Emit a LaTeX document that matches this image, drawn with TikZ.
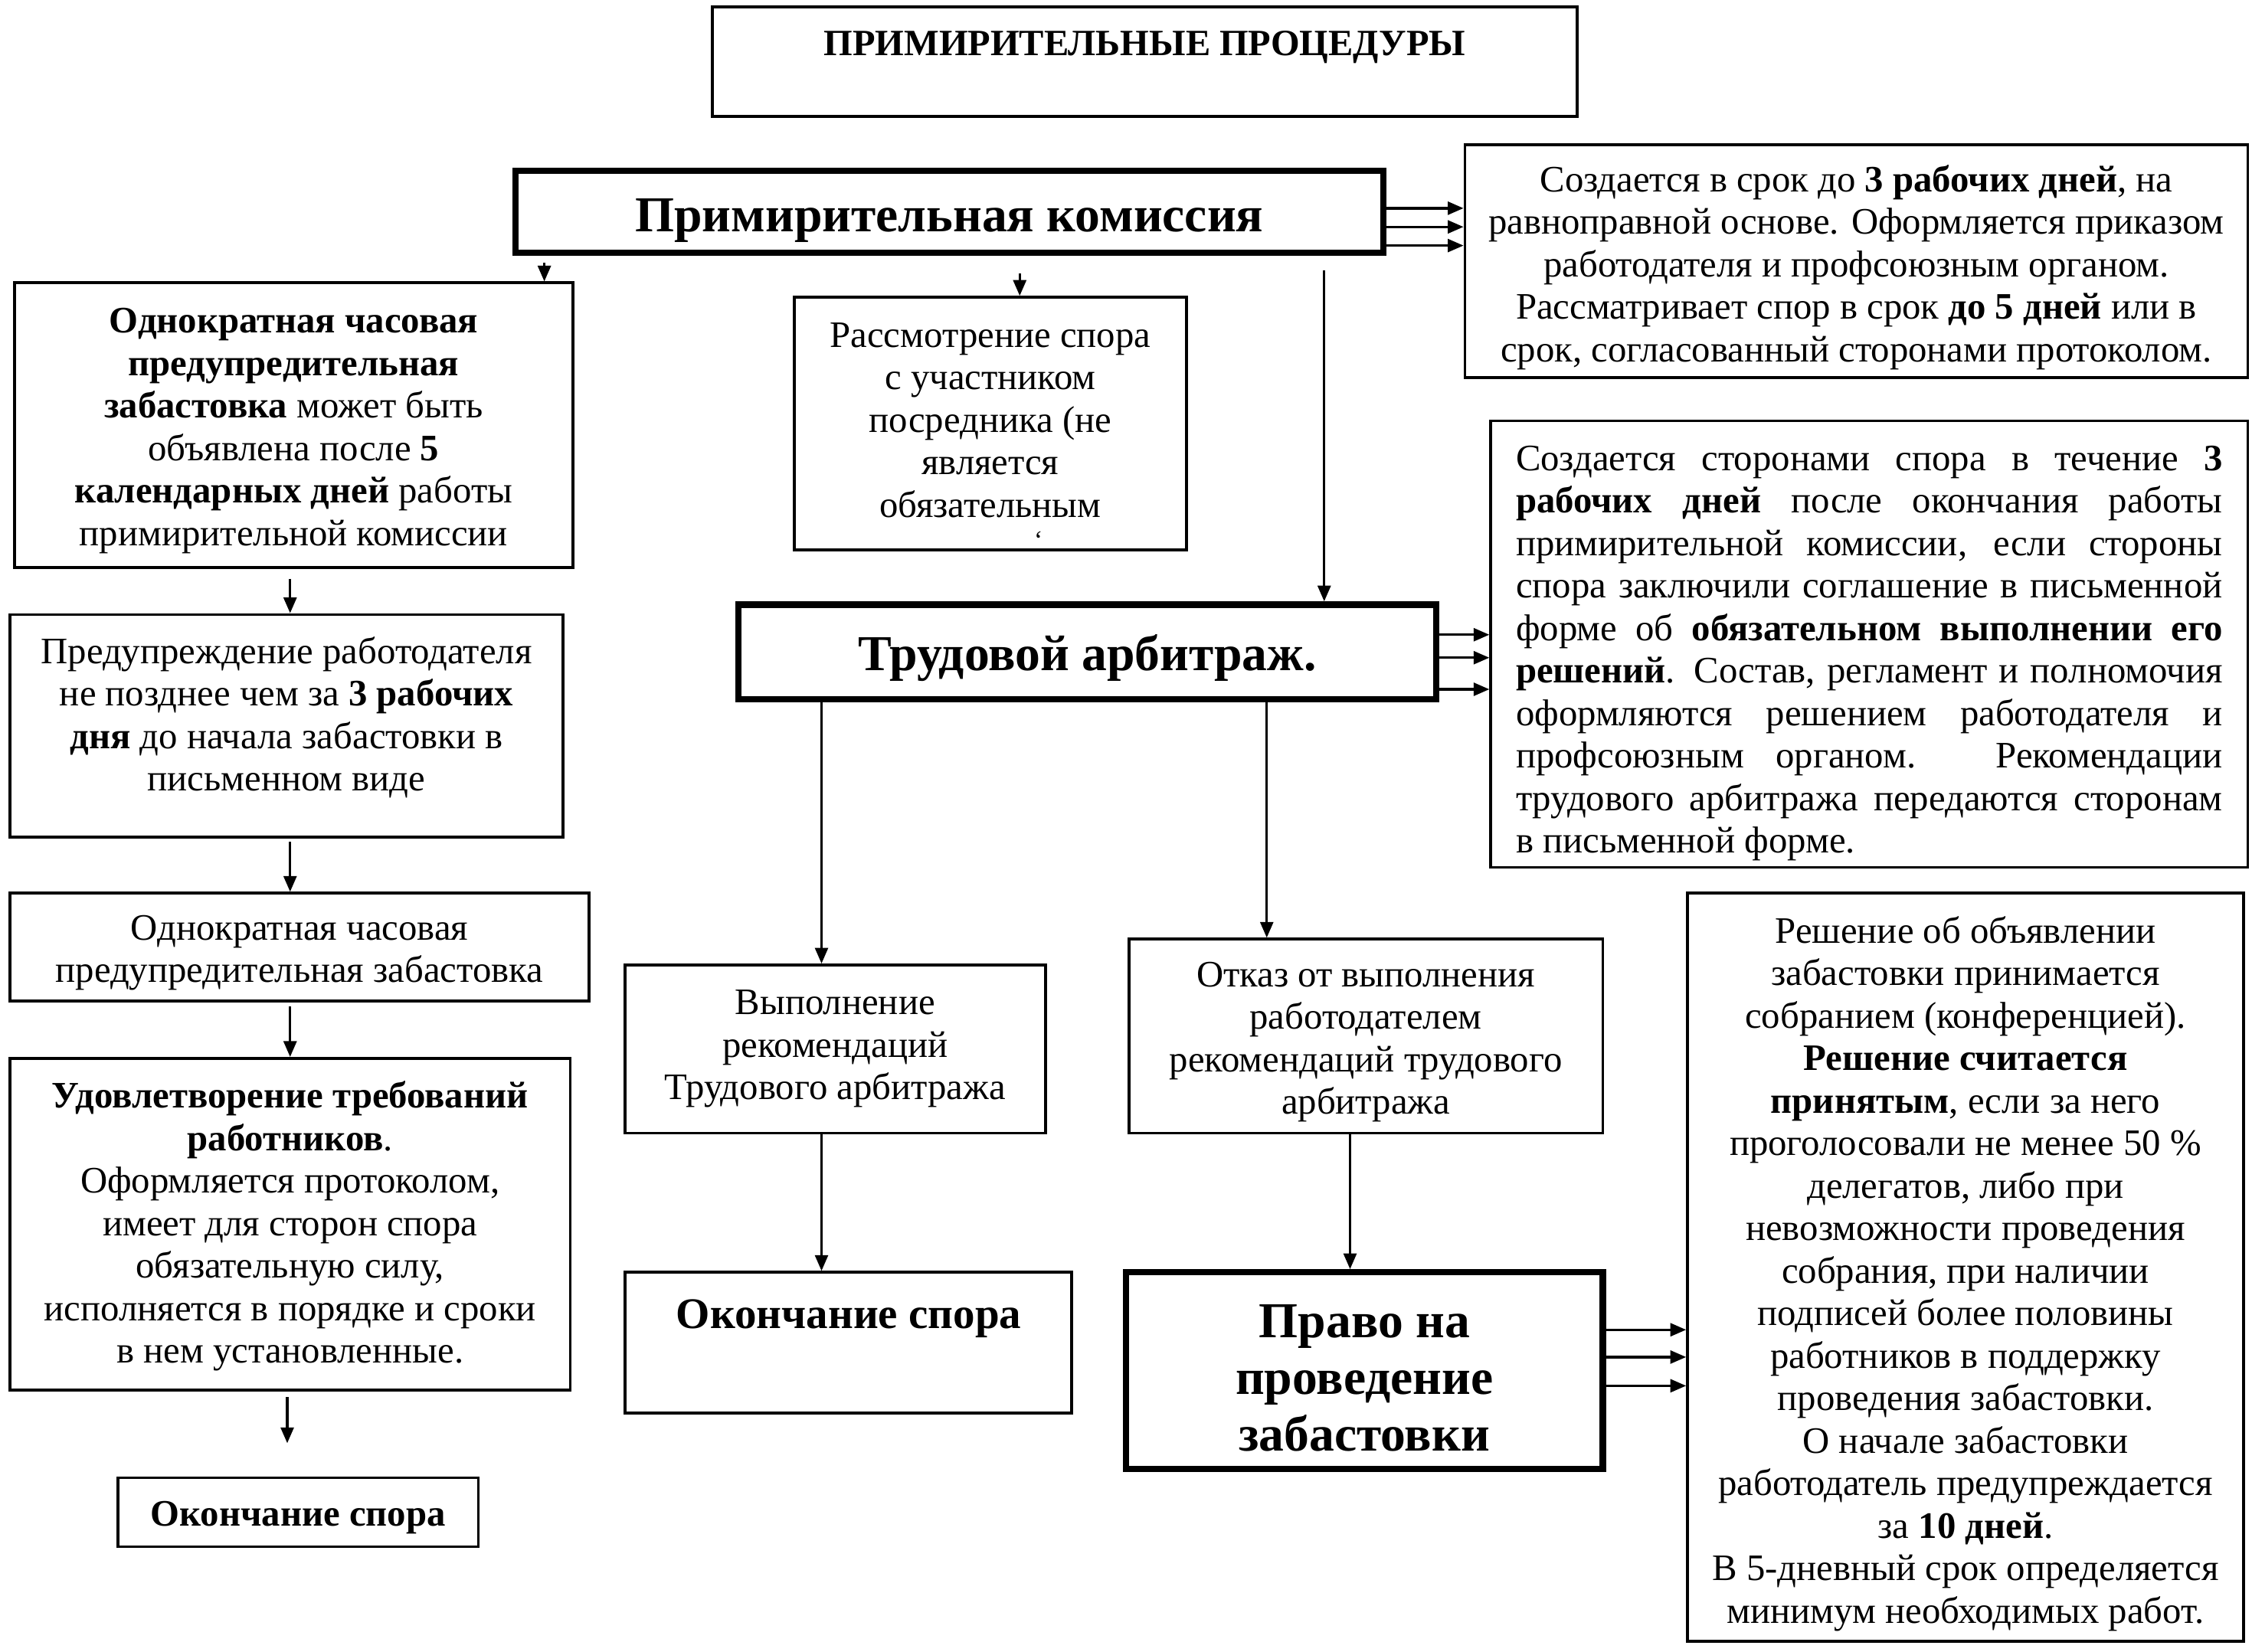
\documentclass[tikz,border=0pt]{standalone}
\usepackage{fontspec}
\setmainfont{Liberation Serif}
\usetikzlibrary{arrows.meta}
\newcommand\bodyfont{\fontsize{13}{14.8}\selectfont}
\newcommand\bigfont{\fontsize{17.5}{19.75}\selectfont\bfseries}
\newcommand\titlefont{\fontsize{12.9}{14}\selectfont\bfseries}
\newcommand\midfont{\fontsize{15.2}{17}\selectfont\bfseries}
\newcommand\jl[1]{\makebox[246pt][s]{#1}}
\begin{document}
\begin{tikzpicture}[x=0.5pt,y=-0.5pt,
  box/.style={draw, line width=1pt, inner sep=0pt},
  thickbox/.style={draw, line width=2.2pt, inner sep=0pt},
  arr/.style={-{Triangle[length=5.5pt,width=4.5pt]}, line width=0.9pt},
  txt/.style={inner sep=0pt, align=center, font=\bodyfont},
  bigtxt/.style={inner sep=0pt, align=center, font=\bigfont}]
\useasboundingbox (0,0) rectangle (1568,1150);
\fill[white] (0,0) rectangle (1568,1150);

% title
\node[box, minimum width=301pt, minimum height=38pt] (title) at (797,43) {};
\node[inner sep=0pt, font=\titlefont] (titletext) at (797,33) {ПРИМИРИТЕЛЬНЫЕ ПРОЦЕДУРЫ};

% Примирительная комиссия
\node[thickbox, minimum width=302pt, minimum height=28.5pt] (kom) at (661,147.5) {};
\node[bigtxt] (komtext) at (661,153.5) {Примирительная комиссия};

% right box 1
\node[box, minimum width=272.5pt, minimum height=81pt] (r1) at (1292.5,182) {};
\node[txt] (r1text) at (1292.5,186)
 {Создается в срок до \textbf{3 рабочих дней}, на\\
  равноправной основе. Оформляется приказом\\
  работодателя и профсоюзным органом.\\
  Рассматривает спор в срок \textbf{до 5 дней} или в\\
  срок, согласованный сторонами протоколом.};

% left column
\node[box, minimum width=194.5pt, minimum height=99pt] (a) at (204.5,296) {};
\node[txt] (atext) at (204.5,300)
 {\textbf{Однократная часовая}\\
  \textbf{предупредительная}\\
  \textbf{забастовка} может быть\\
  объявлена после \textbf{5}\\
  \textbf{календарных дней} работы\\
  примирительной комиссии};

\node[box, minimum width=192.5pt, minimum height=77.5pt] (b) at (199.5,505.5) {};
\node[txt] (btext) at (199.5,499.5)
 {Предупреждение работодателя\\
  не позднее чем за \textbf{3 рабочих}\\
  \textbf{дня} до начала забастовки в\\
  письменном виде};

\node[box, minimum width=201.5pt, minimum height=37.5pt] (c) at (208.5,659.5) {};
\node[txt] (ctext) at (208.5,663.5)
 {Однократная часовая\\
  предупредительная забастовка};

\node[box, minimum width=195pt, minimum height=115.5pt] (d) at (202,852.5) {};
\node[txt] (dtext) at (202,854)
 {\textbf{Удовлетворение требований}\\
  \textbf{работников}.\\
  Оформляется протоколом,\\
  имеет для сторон спора\\
  обязательную силу,\\
  исполняется в порядке и сроки\\
  в нем установленные.};

\node[box, minimum width=125.5pt, minimum height=24pt] (e) at (207.5,1053) {};
\node[txt] (etext) at (207.5,1057) {\textbf{Окончание спора}};

% middle
\node[box, minimum width=136.5pt, minimum height=88pt] (m) at (689.5,295) {};
\node[txt] (mtext) at (689.5,292.5)
 {Рассмотрение спора\\
  с участником\\
  посредника (не\\
  является\\
  обязательным};
\node[inner sep=0pt, font=\fontsize{9}{9}\selectfont] (mtick) at (723,376) {`};

\node[thickbox, minimum width=243pt, minimum height=33pt] (ta) at (757,454) {};
\node[bigtxt] (tatext) at (757,458) {Трудовой арбитраж.};

% right box 2
\node[box, minimum width=263.5pt, minimum height=155.5pt] (r2) at (1301.5,448.5) {};
\node[txt, align=left] (r2text) at (1301.5,455)
 {\jl{Создается сторонами спора в течение \textbf{3}}\\
  \jl{\textbf{рабочих дней} после окончания работы}\\
  \jl{примирительной комиссии, если стороны}\\
  \jl{спора заключили соглашение в письменной}\\
  \jl{форме об \textbf{обязательном выполнении его}}\\
  \jl{\textbf{решений}. Состав, регламент и полномочия}\\
  \jl{оформляются решением работодателя и}\\
  \jl{профсоюзным органом. Рекомендации}\\
  \jl{трудового арбитража передаются сторонам}\\
  \makebox[246pt][l]{в письменной форме.}};

\node[box, minimum width=146.5pt, minimum height=58.5pt] (f) at (581.5,730.5) {};
\node[txt] (ftext) at (581.5,730.5)
 {Выполнение\\
  рекомендаций\\
  Трудового арбитража};

\node[box, minimum width=155.5pt, minimum height=49pt] (g) at (590.5,935) {};
\node[inner sep=0pt, font=\midfont] (gtext) at (591,918) {Окончание спора};

\node[box, minimum width=165pt, minimum height=67.5pt] (h) at (951,721.5) {};
\node[txt] (htext) at (951,725.5)
 {Отказ от выполнения\\
  работодателем\\
  рекомендаций трудового\\
  арбитража};

\node[thickbox, minimum width=166pt, minimum height=68.5pt] (i) at (950,954.5) {};
\node[bigtxt] (itext) at (950,959.5)
 {Право на\\ проведение\\ забастовки};

\node[box, minimum width=193.5pt, minimum height=260.5pt] (r3) at (1368.5,882.5) {};
\node[txt] (r3text) at (1368.5,887)
 {Решение об объявлении\\
  забастовки принимается\\
  собранием (конференцией).\\
  \textbf{Решение считается}\\
  \textbf{принятым}, если за него\\
  проголосовали не менее 50 \%\\
  делегатов, либо при\\
  невозможности проведения\\
  собрания, при наличии\\
  подписей более половины\\
  работников в поддержку\\
  проведения забастовки.\\
  О начале забастовки\\
  работодатель предупреждается\\
  за \textbf{10 дней}.\\
  В 5-дневный срок определяется\\
  минимум необходимых работ.};

% helper coordinates
\coordinate (xa) at (379,0);
\coordinate (xm) at (710,0);
\coordinate (xt) at (922,0);
\coordinate (xl) at (202,0);
\coordinate (xf) at (572,0);
\coordinate (xh) at (882,0);
\coordinate (xi) at (940,0);
\coordinate (dend) at (200,1005);

% vertical connectors
\draw[arr, shorten <=2.5pt] (kom.south -| xa) -- (a.north -| xa);
\draw[arr, shorten <=6pt] (kom.south -| xm) -- (m.north -| xm);
\draw[arr, shorten <=5pt] (kom.south -| xt) -- (ta.north -| xt);
\draw[arr, shorten <=3.5pt] (a.south -| xl) -- (b.north -| xl);
\draw[arr, shorten <=1pt] (b.south -| xl) -- (c.north -| xl);
\draw[arr, shorten <=1.5pt] (c.south -| xl) -- (d.north -| xl);
\draw[arr, shorten <=2pt] (d.south -| dend) -- (dend);
\draw[arr] (ta.south -| xf) -- (f.north -| xf);
\draw[arr] (f.south -| xf) -- (g.north -| xf);
\draw[arr] (ta.south -| xh) -- (h.north -| xh);
\draw[arr] (h.south -| xi) -- (i.north -| xi);

% triple connectors
\foreach \yy in {145,158,171} {
  \coordinate (ky) at (0,\yy);
  \draw[arr] (kom.east |- ky) -- (r1.west |- ky);
}
\foreach \yy in {442,458,480} {
  \coordinate (ty) at (0,\yy);
  \draw[arr] (ta.east |- ty) -- (r2.west |- ty);
}
\foreach \yy in {926,945,965} {
  \coordinate (iy) at (0,\yy);
  \draw[arr] (i.east |- iy) -- (r3.west |- iy);
}
\end{tikzpicture}
\end{document}
